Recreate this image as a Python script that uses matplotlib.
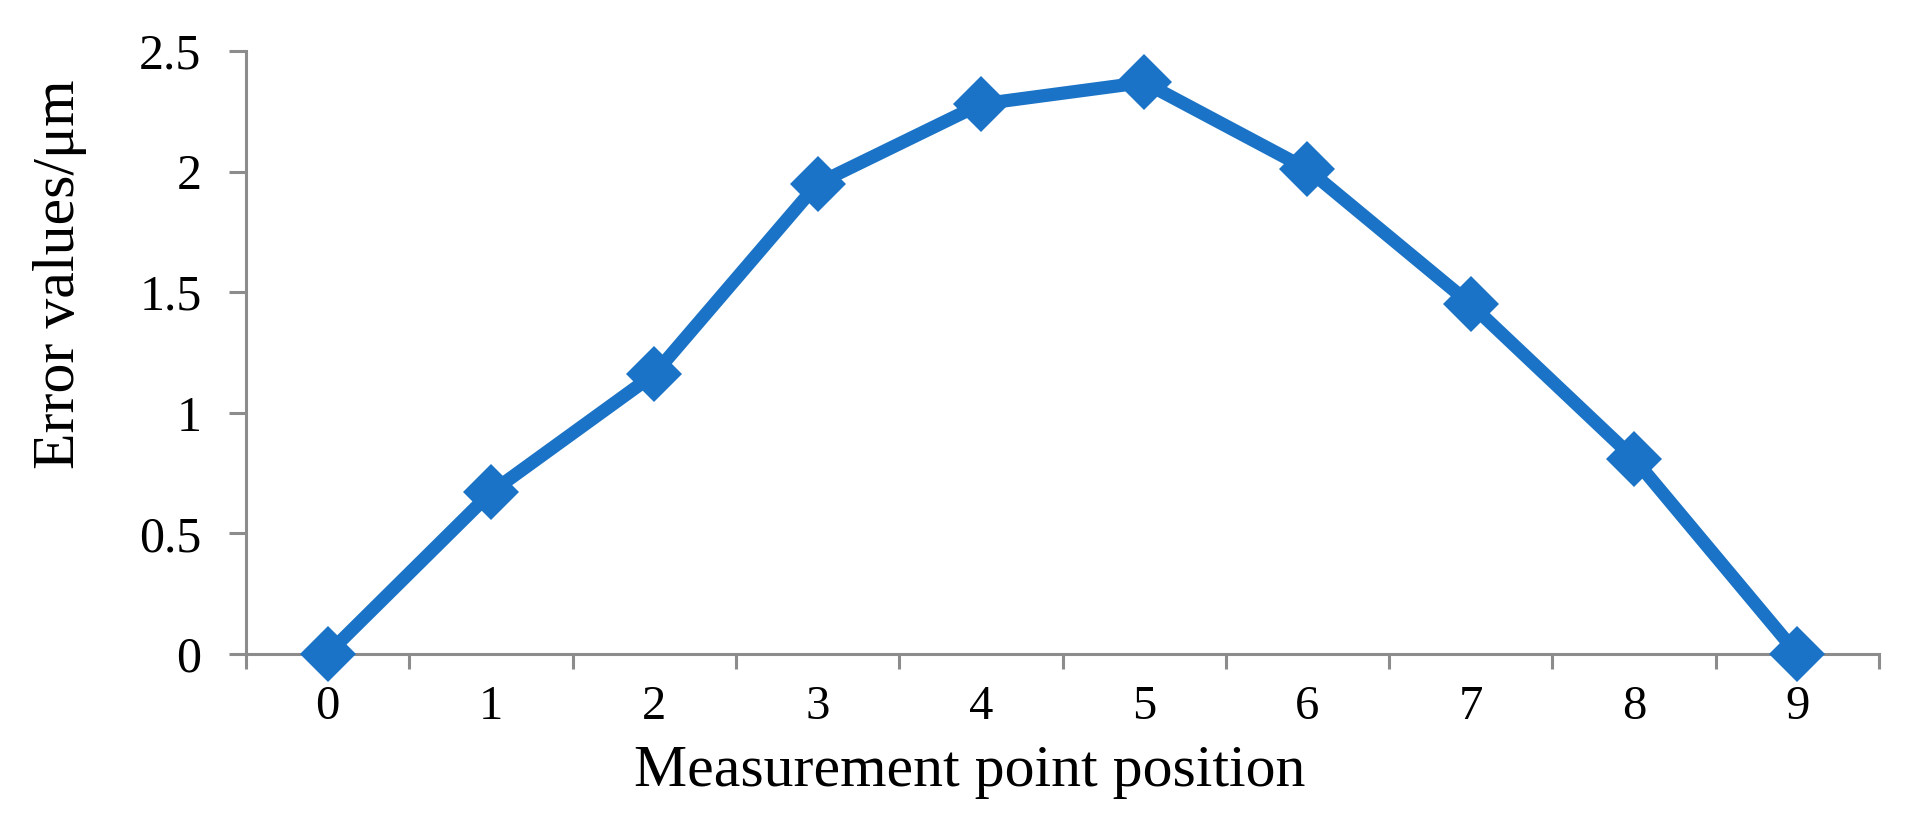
import matplotlib
matplotlib.use('Agg')
import matplotlib.pyplot as plt
from matplotlib.ticker import FixedLocator

positions = [0, 1, 2, 3, 4, 5, 6, 7, 8, 9]
error_values = [0, 0.67, 1.16, 1.95, 2.28, 2.37, 2.01, 1.45, 0.81, 0]
y_ticks = [0, 0.5, 1, 1.5, 2, 2.5]
y_tick_labels = ['0', '0.5', '1', '1.5', '2', '2.5']

plt.rcParams['font.family'] = ['Liberation Serif', 'DejaVu Serif']

if __name__ == '__main__':
    fig = plt.figure(figsize=(19.17, 8.34), dpi=100)
    ax = fig.add_axes([246 / 1917, 1 - 654 / 834, (1879 - 246) / 1917, (654 - 51) / 834])

    ax.plot(positions, error_values, color='#1A73C6', linewidth=9.5,
            marker='D', markersize=29, markeredgewidth=0,
            clip_on=False, zorder=5)

    ax.set_xlim(-0.5, 9.5)
    ax.set_ylim(0, 2.5)

    gray = '#8C8C8C'
    for side in ('top', 'right'):
        ax.spines[side].set_visible(False)
    for side in ('left', 'bottom'):
        ax.spines[side].set_color(gray)
        ax.spines[side].set_linewidth(2.2)

    # categories sit between tick marks, like an Excel category axis
    ax.set_xticks(positions)
    ax.set_xticklabels([str(p) for p in positions])
    ax.xaxis.set_minor_locator(FixedLocator([p - 0.5 for p in positions] + [9.5]))
    ax.tick_params(axis='x', which='major', length=0, pad=22, labelsize=35)
    ax.tick_params(axis='x', which='minor', length=11, width=2.2, color=gray)

    ax.set_yticks(y_ticks)
    ax.set_yticklabels(y_tick_labels)
    ax.tick_params(axis='y', length=12, width=2.2, color=gray, pad=20, labelsize=36)

    fig.text(970 / 1917, 1 - 786 / 834, 'Measurement point position',
             ha='center', va='baseline', fontsize=43)
    fig.text(60 / 1917, 1 - 274 / 834, 'Error values/μm',
             ha='center', va='center', rotation=90, fontsize=43)

    fig.savefig('out.png', dpi=100)
